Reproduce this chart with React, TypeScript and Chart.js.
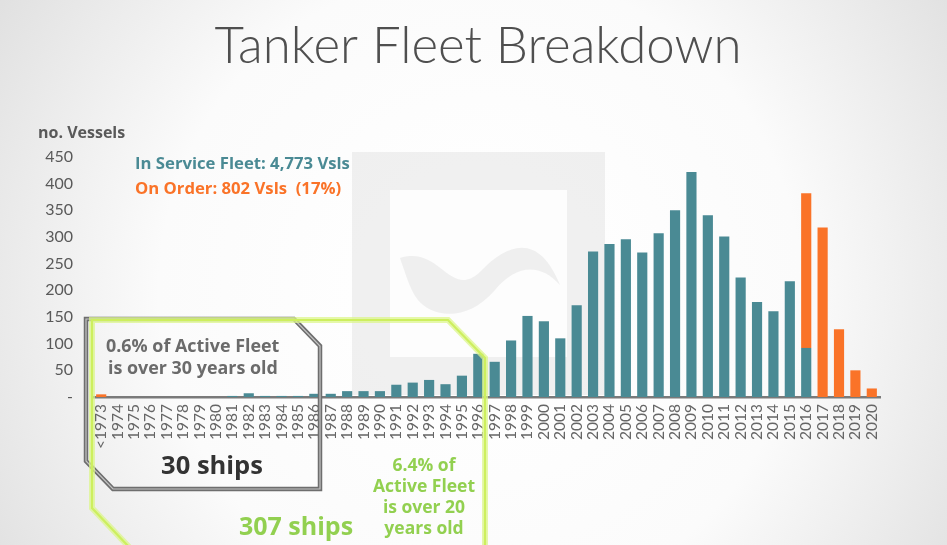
import React, { useEffect, useRef } from "react";
import { Chart, registerables } from "chart.js";

Chart.register(...registerables);

const categories = [
  "<1973", "1974", "1975", "1976", "1977", "1978", "1979", "1980", "1981", "1982",
  "1983", "1984", "1985", "1986", "1987", "1988", "1989", "1990", "1991", "1992",
  "1993", "1994", "1995", "1996", "1997", "1998", "1999", "2000", "2001", "2002",
  "2003", "2004", "2005", "2006", "2007", "2008", "2009", "2010", "2011", "2012",
  "2013", "2014", "2015", "2016", "2017", "2018", "2019", "2020",
];

const inService = [
  0, 0, 0, 0, 0, 0, 0, 0, 2, 7,
  2, 2, 2, 6, 6, 11, 11, 11, 23, 27,
  32, 24, 40, 81, 66, 106, 152, 142, 110, 172,
  273, 287, 296, 271, 307, 350, 422, 341, 301, 224,
  178, 161, 217, 92, 0, 0, 0, 0,
];

const onOrder = [
  5, 0, 0, 0, 0, 0, 0, 0, 0, 0,
  0, 0, 0, 0, 0, 0, 0, 0, 0, 0,
  0, 0, 0, 0, 0, 0, 0, 0, 0, 0,
  0, 0, 0, 0, 0, 0, 0, 0, 0, 0,
  0, 0, 0, 290, 318, 127, 50, 16,
];

const yMax = 450;
const yStep = 50;

const TEAL = "#4a8a94";
const ORANGE = "#fa7328";
const GREEN = "#92d050";
const GREY_TEXT = "#595959";
const FONT = "Lato, 'Open Sans', sans-serif";
const BOLD_FONT = "'Open Sans', Lato, sans-serif";

const decorPlugin = {
  id: "decor",
  beforeDraw(chart: any) {
    const { ctx, width, height } = chart;
    ctx.save();
    const g = ctx.createRadialGradient(480, 290, 60, 480, 290, 640);
    g.addColorStop(0, "#ffffff");
    g.addColorStop(0.45, "#fbfbfb");
    g.addColorStop(1, "#d8d8d8");
    ctx.fillStyle = g;
    ctx.fillRect(0, 0, width, height);
    // watermark
    ctx.fillStyle = "rgba(225,225,225,0.5)";
    ctx.fillRect(352, 152, 253, 243);
    ctx.fillStyle = "#fdfdfd";
    ctx.fillRect(390, 190, 177, 167);
    ctx.fillStyle = "rgba(225,225,225,0.5)";
    ctx.beginPath();
    ctx.moveTo(400, 258);
    ctx.bezierCurveTo(440, 245, 450, 300, 480, 272);
    ctx.bezierCurveTo(510, 240, 540, 235, 560, 285);
    ctx.bezierCurveTo(540, 262, 515, 265, 495, 290);
    ctx.bezierCurveTo(465, 325, 430, 315, 418, 300);
    ctx.bezierCurveTo(410, 290, 405, 272, 400, 258);
    ctx.closePath();
    ctx.fill();
    ctx.restore();
  },
  afterDraw(chart: any) {
    const { ctx } = chart;
    ctx.save();
    // Title
    ctx.fillStyle = "#4f4f4f";
    ctx.font = `300 51px ${FONT}`;
    ctx.textAlign = "center";
    ctx.textBaseline = "alphabetic";
    ctx.fillText("Tanker Fleet Breakdown", 478, 63);

    ctx.textAlign = "left";
    ctx.font = `bold 16px ${BOLD_FONT}`;
    ctx.fillStyle = GREY_TEXT;
    ctx.fillText("no. Vessels", 38, 138);

    ctx.font = `bold 16.7px ${BOLD_FONT}`;
    ctx.fillStyle = TEAL;
    ctx.fillText("In Service Fleet: 4,773 Vsls", 135, 169);
    ctx.fillStyle = ORANGE;
    ctx.fillText("On Order: 802 Vsls  (17%)", 135, 194);

    // grey box
    const grey = () => {
      ctx.beginPath();
      ctx.moveTo(86, 319);
      ctx.lineTo(294, 319);
      ctx.lineTo(320, 346);
      ctx.lineTo(320, 489);
      ctx.lineTo(113, 489);
      ctx.lineTo(86, 461);
      ctx.closePath();
    };
    ctx.lineJoin = "miter";
    grey();
    ctx.strokeStyle = "#6e6e6e";
    ctx.lineWidth = 4.5;
    ctx.stroke();
    grey();
    ctx.strokeStyle = "#c4c4c4";
    ctx.lineWidth = 1.2;
    ctx.stroke();

    // green polygon
    const green = () => {
      ctx.beginPath();
      ctx.moveTo(130, 548);
      ctx.lineTo(92, 508);
      ctx.lineTo(92, 320);
      ctx.lineTo(448, 320);
      ctx.lineTo(485, 358);
      ctx.lineTo(485, 548);
    };
    green();
    ctx.strokeStyle = "rgba(220,245,140,0.75)";
    ctx.lineWidth = 6;
    ctx.stroke();
    green();
    ctx.strokeStyle = "#cdef5e";
    ctx.lineWidth = 2.2;
    ctx.stroke();

    // texts in boxes
    ctx.fillStyle = "#6b6b6b";
    ctx.font = `bold 17.9px ${BOLD_FONT}`;
    ctx.textAlign = "left";
    ctx.fillText("0.6% of Active Fleet", 106, 352);
    ctx.fillText("is over 30 years old", 108, 374);

    ctx.fillStyle = "#333333";
    ctx.font = `bold 25.5px ${BOLD_FONT}`;
    ctx.textAlign = "center";
    ctx.fillText("30 ships", 212, 474);

    ctx.fillStyle = GREEN;
    ctx.font = `bold 25px ${BOLD_FONT}`;
    ctx.fillText("307 ships", 296, 535);

    ctx.font = `bold 17.5px ${BOLD_FONT}`;
    ctx.fillText("6.4% of", 424, 471);
    ctx.fillText("Active Fleet", 424, 492);
    ctx.fillText("is over 20", 424, 513);
    ctx.fillText("years old", 424, 534);
    ctx.restore();
  },
};

export default function App() {
  const ref = useRef<HTMLCanvasElement | null>(null);
  useEffect(() => {
    if (!ref.current) return;
    const chart = new Chart(ref.current, {
      type: "bar",
      data: {
        labels: categories,
        datasets: [
          {
            label: "In Service Fleet",
            data: inService,
            backgroundColor: TEAL,
            barPercentage: 0.62,
            categoryPercentage: 1,
          },
          {
            label: "On Order",
            data: onOrder,
            backgroundColor: ORANGE,
            barPercentage: 0.62,
            categoryPercentage: 1,
          },
        ],
      },
      options: {
        animation: false,
        responsive: false,
        maintainAspectRatio: false,
        layout: {
          autoPadding: false,
          padding: { top: 157, left: 0, right: 67, bottom: 0 },
        },
        plugins: {
          legend: { display: false },
          tooltip: { enabled: false },
          title: { display: false },
        },
        scales: {
          x: {
            stacked: true,
            grid: { display: false, drawTicks: false },
            border: { display: true, color: "#7a7a7a", width: 2.5 },
            ticks: {
              color: "#666666",
              font: { family: FONT, size: 15.5 },
              minRotation: 90,
              maxRotation: 90,
              autoSkip: false,
              padding: 7,
            },
            afterFit: (s: any) => {
              s.height = 148;
            },
          },
          y: {
            stacked: true,
            min: 0,
            max: yMax,
            grid: { display: false, drawTicks: false },
            border: { display: false },
            ticks: {
              stepSize: yStep,
              color: GREY_TEXT,
              font: { family: FONT, size: 16 },
              padding: 20,
              callback: (v: any) => (v === 0 ? "-" : String(v)),
            },
            afterFit: (s: any) => {
              s.width = 93;
            },
          },
        },
      },
      plugins: [decorPlugin],
    });
    return () => chart.destroy();
  }, []);
  return (
    <div style={{ position: "fixed", left: 0, top: 0, width: 947, height: 545 }}>
      <canvas ref={ref} width={947} height={545} style={{ display: "block", width: 947, height: 545 }} />
    </div>
  );
}
